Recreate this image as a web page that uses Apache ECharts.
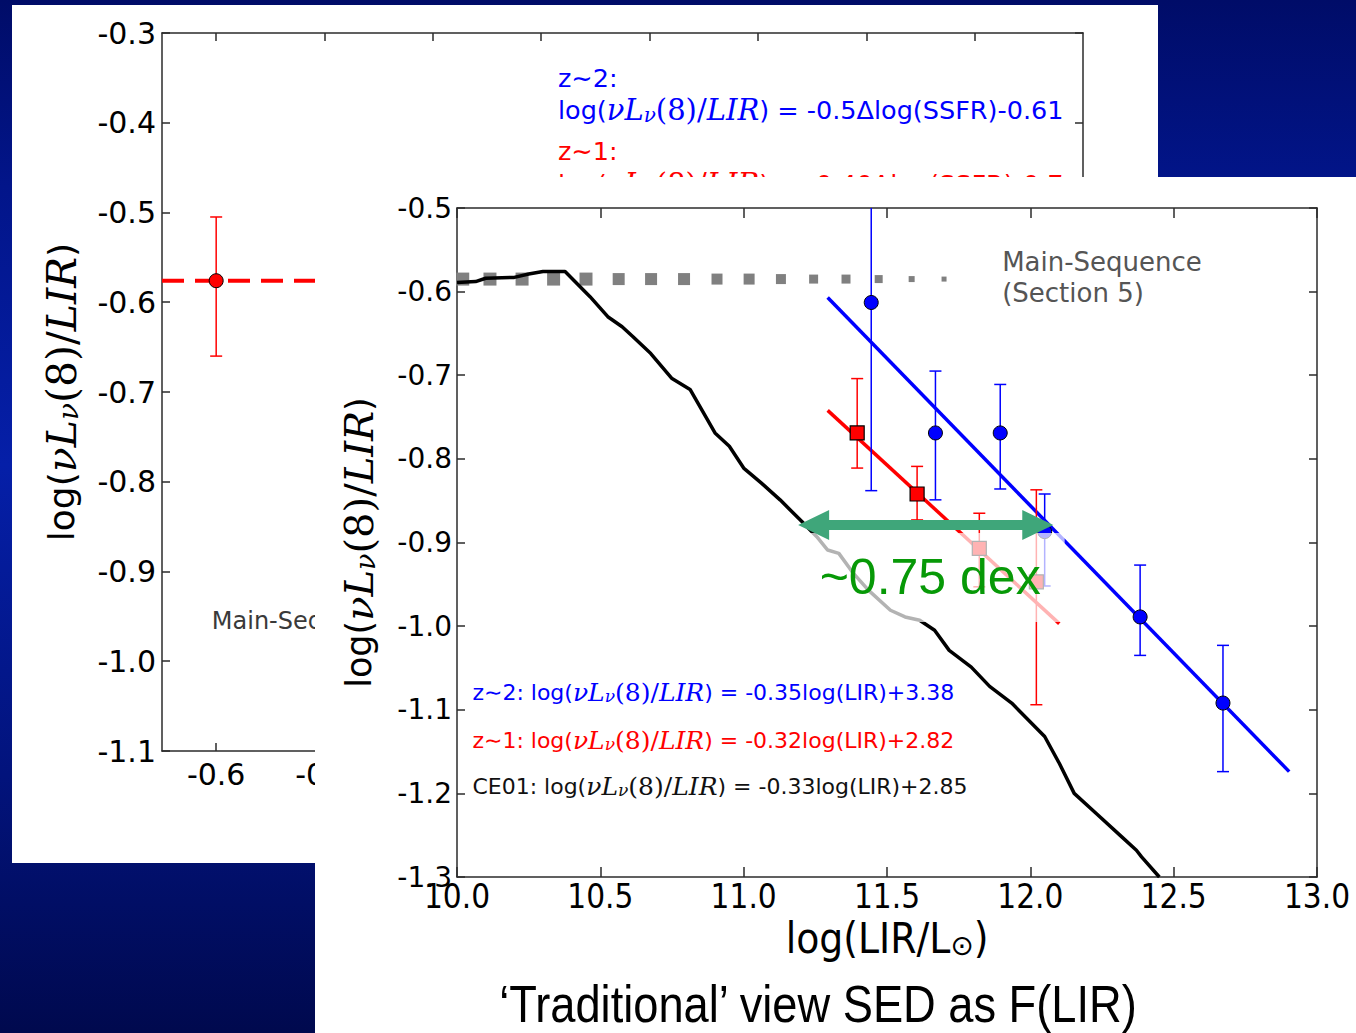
<!DOCTYPE html>
<html>
<head>
<meta charset="utf-8">
<script src="https://cdn.jsdelivr.net/npm/echarts@6/dist/echarts.min.js"></script>
<style>
  html, body { margin: 0; padding: 0; width: 1356px; height: 1033px; overflow: hidden; }
  body {
    position: relative;
    background: linear-gradient(to bottom, #000c68 0%, #02158a 18%, #051fa8 45%, #02137c 75%, #00094e 100%);
  }
  #back  { position: absolute; left: 12px;  top: 5px;   width: 1146px; height: 858px; background: #fff; }
  #front { position: absolute; left: 315px; top: 177px; width: 1041px; height: 856px; background: #fff; }
</style>
</head>
<body>
<div id="back"></div>
<div id="front"></div>
<script>
// ---------------- data ----------------
// CE01 template track: log(LIR) vs log(νLν(8)/LIR)
const ce01LIR = [10.0, 10.065, 10.10, 10.20, 10.25, 10.30, 10.377, 10.464, 10.526, 10.576, 10.614, 10.676,
  10.75, 10.813, 10.90, 10.95, 11.0, 11.062, 11.127, 11.203, 11.255, 11.293, 11.332, 11.383, 11.435,
  11.512, 11.563, 11.614, 11.666, 11.717, 11.794, 11.858, 11.935, 12.05, 12.101, 12.153, 12.23,
  12.319, 12.37, 12.388, 12.45];
const ce01Ratio = [-0.589, -0.588, -0.584, -0.583, -0.579, -0.576, -0.576, -0.606, -0.630, -0.642, -0.654, -0.674,
  -0.704, -0.717, -0.769, -0.785, -0.811, -0.829, -0.849, -0.875, -0.893, -0.909, -0.913, -0.937, -0.957,
  -0.981, -0.989, -0.993, -1.005, -1.029, -1.049, -1.072, -1.092, -1.132, -1.164, -1.200, -1.224,
  -1.252, -1.268, -1.276, -1.300];

// main-sequence level (dotted grey squares)
const msLIR = [10.02, 10.115, 10.227, 10.337, 10.450, 10.564, 10.677, 10.792, 10.907, 11.019, 11.130,
  11.244, 11.357, 11.471, 11.586, 11.699];
const msRatio = [-0.585, -0.585, -0.585, -0.585, -0.585, -0.585, -0.585, -0.585, -0.585, -0.585, -0.585,
  -0.585, -0.585, -0.585, -0.585, -0.585];

// z~2 stacks (blue circles) with error ranges
const z2LIR   = [11.445, 11.669, 11.895, 12.050, 12.383, 12.672];
const z2Ratio = [-0.613, -0.769, -0.769, -0.887, -0.989, -1.092];
const z2Low   = [-0.838, -0.849, -0.836, -0.952, -1.035, -1.174];
const z2High  = [-0.388, -0.695, -0.711, -0.842, -0.927, -1.023];

// z~1 stacks (red squares) with error ranges
const z1LIR   = [11.396, 11.605, 11.822, 12.021];
const z1Ratio = [-0.769, -0.842, -0.907, -0.947];
const z1Low   = [-0.811, -0.873, -0.953, -1.094];
const z1High  = [-0.704, -0.809, -0.865, -0.837];

// fitted relations (end points of the drawn segments)
const fitZ2LIR = [11.293, 12.903];
const fitZ2Ratio = [-0.607, -1.174];
const fitZ1LIR = [11.293, 12.101];
const fitZ1Ratio = [-0.742, -0.997];

// offset arrow between the CE01 track and the z~2 relation
const offsetArrow = [11.19, 12.08, -0.879];

// SSFR panel: z~1 main-sequence point
const ssfrDelta = [-0.6];
const ssfrRatio = [-0.576];
const ssfrLow = [-0.660];
const ssfrHigh = [-0.505];

// tick positions / labels of the SSFR panel
const ssfrTicks = [-0.6, -0.4, -0.2, 0.0, 0.2, 0.4, 0.6, 0.8];
const ssfrTickLabels = [-0.6, -0.4];

// ---------------- styling helpers ----------------
const BLUE = '#0000ff', RED = '#ff0000', AXIS = '#2b2b2b';
const msSizes = [13, 13, 13, 13, 13, 12, 12, 12, 11, 11, 10, 9, 9, 8, 6, 5];

function mathRich(size, color) {
  const m = Math.round(size * 1.13);
  return {
    s:   { fontFamily: 'DejaVu Sans', fontSize: size, color: color },
    mi:  { fontFamily: 'DejaVu Serif', fontStyle: 'italic', fontSize: m, color: color },
    mr:  { fontFamily: 'DejaVu Serif', fontSize: m, color: color },
    sub: { fontFamily: 'DejaVu Serif', fontStyle: 'italic', fontSize: Math.round(size * 0.78), color: color, verticalAlign: 'bottom' }
  };
}
const ratioName = '{s|log(}{mi|νL}{sub|ν}{mr|(8)/}{mi|LIR}{s|)}';

function errorBars(xs, lows, highs, color, cap, z) {
  return {
    type: 'custom', z: z, clip: true,
    encode: { x: 0, y: [1, 2] },
    data: xs.map((x, i) => [x, lows[i], highs[i]]),
    renderItem: function (params, api) {
      const a = api.coord([api.value(0), api.value(1)]);
      const b = api.coord([api.value(0), api.value(2)]);
      const st = { stroke: color, lineWidth: 1.5, fill: null };
      return { type: 'group', children: [
        { type: 'line', shape: { x1: a[0], y1: a[1], x2: b[0], y2: b[1] }, style: st },
        { type: 'line', shape: { x1: a[0] - cap, y1: a[1], x2: a[0] + cap, y2: a[1] }, style: st },
        { type: 'line', shape: { x1: b[0] - cap, y1: b[1], x2: b[0] + cap, y2: b[1] }, style: st }
      ]};
    }
  };
}

function textNote(x, y, label, z) {
  return {
    type: 'scatter', z: z, symbolSize: 1, silent: true,
    itemStyle: { color: 'rgba(0,0,0,0)', opacity: 1 },
    data: [[x, y]],
    label: Object.assign({ show: true, position: 'right', distance: 0 }, label)
  };
}
function prefixed(obj, p) { const o = {}; Object.keys(obj).forEach(k => o[p + k] = obj[k]); return o; }

// ---------------- back panel: ratio vs Δlog(SSFR) ----------------
const back = echarts.init(document.getElementById('back'), null, { renderer: 'svg' });
const backTextRich = Object.assign({
  b: { fontFamily: 'DejaVu Sans', fontSize: 25.5, color: BLUE },
  r: { fontFamily: 'DejaVu Sans', fontSize: 25.5, color: RED }
}, prefixed(mathRich(25.5, BLUE), 'b'), prefixed(mathRich(25.5, RED), 'r'));

const backAxisLine = { show: true, onZero: false, lineStyle: { color: AXIS, width: 1.5 } };
const backTick = { inside: true, length: 8, lineStyle: { color: AXIS, width: 1.5 } };
back.setOption({
  animation: false,
  grid: { left: 150, top: 28, right: 75, bottom: 112 },
  xAxis: [
    { type: 'value', min: -0.7, max: 1.0, axisLine: backAxisLine, splitLine: { show: false },
      axisTick: Object.assign({ customValues: ssfrTicks }, backTick),
      axisLabel: { customValues: ssfrTickLabels, formatter: v => v.toFixed(1), fontFamily: 'DejaVu Sans', fontSize: 30, color: '#000', margin: 8 } },
    { type: 'value', position: 'top', min: -0.7, max: 1.0, axisLine: backAxisLine, splitLine: { show: false },
      axisTick: Object.assign({ customValues: ssfrTicks }, backTick), axisLabel: { show: false } }
  ],
  yAxis: [
    { type: 'value', min: -1.1, max: -0.3, interval: 0.1, axisLine: backAxisLine, splitLine: { show: false },
      axisTick: backTick,
      axisLabel: { formatter: v => v.toFixed(1), fontFamily: 'DejaVu Sans', fontSize: 30, color: '#000', margin: 6 },
      name: ratioName, nameLocation: 'middle', nameRotate: 90, nameGap: 80,
      nameTextStyle: { rich: mathRich(36, '#000') } },
    { type: 'value', position: 'right', min: -1.1, max: -0.3, interval: 0.1, axisLine: backAxisLine, splitLine: { show: false },
      axisTick: backTick, axisLabel: { show: false } }
  ],
  series: [
    { type: 'line', z: 2, showSymbol: false, silent: true,
      data: [[-0.7, ssfrRatio[0]], [1.0, ssfrRatio[0]]],
      lineStyle: { color: RED, width: 4, type: [22, 11] } },
    errorBars(ssfrDelta, ssfrLow, ssfrHigh, RED, 6, 3),
    { type: 'scatter', z: 4, symbol: 'circle', symbolSize: 14,
      data: ssfrDelta.map((x, i) => [x, ssfrRatio[i]]),
      itemStyle: { color: RED, borderColor: '#000', borderWidth: 1, opacity: 1 } },
    textNote(0.03, -0.350, { formatter: '{b|z∼2:}', rich: backTextRich }, 6),
    textNote(0.03, -0.386, { formatter: '{bs|log(}{bmi|νL}{bsub|ν}{bmr|(8)/}{bmi|LIR}{bs|) = -0.5Δlog(SSFR)-0.61}', rich: backTextRich }, 6),
    textNote(0.03, -0.4315, { formatter: '{r|z∼1:}', rich: backTextRich }, 6),
    textNote(0.03, -0.468, { formatter: '{rs|log(}{rmi|νL}{rsub|ν}{rmr|(8)/}{rmi|LIR}{rs|) = -0.40Δlog(SSFR)-0.7}', rich: backTextRich }, 6),
    textNote(-0.609, -0.955, { formatter: 'Main-Sequence', fontFamily: 'DejaVu Sans', fontSize: 24, color: '#3a3a3a',
      width: 118, overflow: 'truncate', ellipsis: '' }, 6)
  ]
});

// ---------------- front panel: ratio vs log(LIR) ----------------
const front = echarts.init(document.getElementById('front'), null, { renderer: 'svg' });
const frontAxisLine = { show: true, onZero: false, lineStyle: { color: AXIS, width: 1.5 } };
const legendRich = Object.assign({}, prefixed(mathRich(22, BLUE), 'b'), prefixed(mathRich(22, RED), 'r'),
  prefixed(mathRich(22, '#111'), 'k'));

front.setOption({
  animation: false,
  grid: { left: 142, top: 31, right: 39, bottom: 156 },
  xAxis: [
    { type: 'value', min: 10, max: 13, interval: 0.5, axisLine: frontAxisLine, splitLine: { show: false },
      axisTick: { inside: true, length: 10, lineStyle: { color: AXIS, width: 1.5 } },
      axisLabel: { formatter: v => v.toFixed(1), fontFamily: 'DejaVu Sans Condensed, DejaVu Sans', fontSize: 33, color: '#000', margin: 3 },
      name: '{a|log(LIR/L}{b|⊙}{a|)}', nameLocation: 'middle', nameGap: 31,
      nameTextStyle: { rich: {
        a: { fontFamily: 'DejaVu Sans Condensed, DejaVu Sans', fontSize: 42, color: '#000' },
        b: { fontFamily: 'DejaVu Sans', fontSize: 28, color: '#000', verticalAlign: 'bottom' } } } },
    { type: 'value', position: 'top', min: 10, max: 13, interval: 0.5, axisLine: frontAxisLine, splitLine: { show: false },
      axisTick: { inside: true, length: 10, lineStyle: { color: AXIS, width: 1.5 } }, axisLabel: { show: false } }
  ],
  yAxis: [
    { type: 'value', min: -1.3, max: -0.5, interval: 0.1, axisLine: frontAxisLine, splitLine: { show: false },
      axisTick: { inside: true, length: 8, lineStyle: { color: AXIS, width: 1.5 } },
      axisLabel: { formatter: v => v.toFixed(1), fontFamily: 'DejaVu Sans', fontSize: 28, color: '#000', margin: 5 },
      name: ratioName, nameLocation: 'middle', nameRotate: 90, nameGap: 78,
      nameTextStyle: { rich: mathRich(35, '#000') } },
    { type: 'value', position: 'right', min: -1.3, max: -0.5, interval: 0.1, axisLine: frontAxisLine, splitLine: { show: false },
      axisTick: { inside: true, length: 8, lineStyle: { color: AXIS, width: 1.5 } }, axisLabel: { show: false } }
  ],
  graphic: [
    { type: 'text', x: 503, y: 827, scaleX: 0.87, z: 10,
      style: { text: '‘Traditional’ view SED as F(LIR)', font: '52px "Liberation Sans"',
        fontFamily: 'Liberation Sans', fontSize: 52, fill: '#000',
        textAlign: 'center', textVerticalAlign: 'middle', align: 'center', verticalAlign: 'middle' } }
  ],
  series: [
    { type: 'scatter', z: 1, symbol: 'rect', silent: true,
      symbolSize: (v, p) => msSizes[p.dataIndex],
      data: msLIR.map((x, i) => [x, msRatio[i]]),
      itemStyle: { color: '#808080', opacity: 1 } },
    { type: 'line', z: 2, showSymbol: false, silent: true,
      data: ce01LIR.map((x, i) => [x, ce01Ratio[i]]),
      lineStyle: { color: '#000', width: 3.5 } },
    { type: 'line', z: 2, showSymbol: false, silent: true,
      data: fitZ2LIR.map((x, i) => [x, fitZ2Ratio[i]]),
      lineStyle: { color: BLUE, width: 3.5 } },
    { type: 'line', z: 2, showSymbol: false, silent: true,
      data: fitZ1LIR.map((x, i) => [x, fitZ1Ratio[i]]),
      lineStyle: { color: RED, width: 3.5 } },
    errorBars(z2LIR, z2Low, z2High, BLUE, 6, 3),
    errorBars(z1LIR, z1Low, z1High, RED, 6, 3),
    { type: 'scatter', z: 4, symbol: 'circle', symbolSize: 14,
      data: z2LIR.map((x, i) => [x, z2Ratio[i]]),
      itemStyle: { color: BLUE, borderColor: '#000', borderWidth: 1, opacity: 1 } },
    { type: 'scatter', z: 4, symbol: 'rect', symbolSize: 14,
      data: z1LIR.map((x, i) => [x, z1Ratio[i]]),
      itemStyle: { color: RED, borderColor: '#000', borderWidth: 1.2, opacity: 1 } },
    // offset label with a translucent box
    textNote(11.668, -0.9418, { position: 'inside', formatter: '~0.75 dex', fontFamily: 'Liberation Sans',
      fontSize: 50, color: '#079907', backgroundColor: 'rgba(255,255,255,0.7)', padding: [27, 24, 12, 14] }, 5),
    // double-headed arrow
    { type: 'custom', z: 6, silent: true,
      encode: { x: [0, 1], y: 2 },
      data: [offsetArrow],
      renderItem: function (params, api) {
        const l = api.coord([api.value(0), api.value(2)]);
        const r = api.coord([api.value(1), api.value(2)]);
        const y = l[1], h = 31, w = 15, t = 5;
        return { type: 'polygon', shape: { points: [
          [l[0], y], [l[0] + h, y - w], [l[0] + h, y - t], [r[0] - h, y - t], [r[0] - h, y - w], [r[0], y],
          [r[0] - h, y + w], [r[0] - h, y + t], [l[0] + h, y + t], [l[0] + h, y + w]] },
          style: { fill: '#3fa67a' } };
      } },
    textNote(11.90, -0.565, { formatter: 'Main-Sequence', fontFamily: 'DejaVu Sans', fontSize: 26, color: '#555' }, 7),
    textNote(11.90, -0.602, { formatter: '(Section 5)', fontFamily: 'DejaVu Sans', fontSize: 26, color: '#555' }, 7),
    textNote(10.052, -1.0788, { formatter: '{bs|z∼2: log(}{bmi|νL}{bsub|ν}{bmr|(8)/}{bmi|LIR}{bs|) = -0.35log(LIR)+3.38}', rich: legendRich }, 7),
    textNote(10.052, -1.1362, { formatter: '{rs|z∼1: log(}{rmi|νL}{rsub|ν}{rmr|(8)/}{rmi|LIR}{rs|) = -0.32log(LIR)+2.82}', rich: legendRich }, 7),
    textNote(10.052, -1.1912, { formatter: '{ks|CE01: log(}{kmi|νL}{ksub|ν}{kmr|(8)/}{kmi|LIR}{ks|) = -0.33log(LIR)+2.85}', rich: legendRich }, 7)
  ]
});
</script>
</body>
</html>
